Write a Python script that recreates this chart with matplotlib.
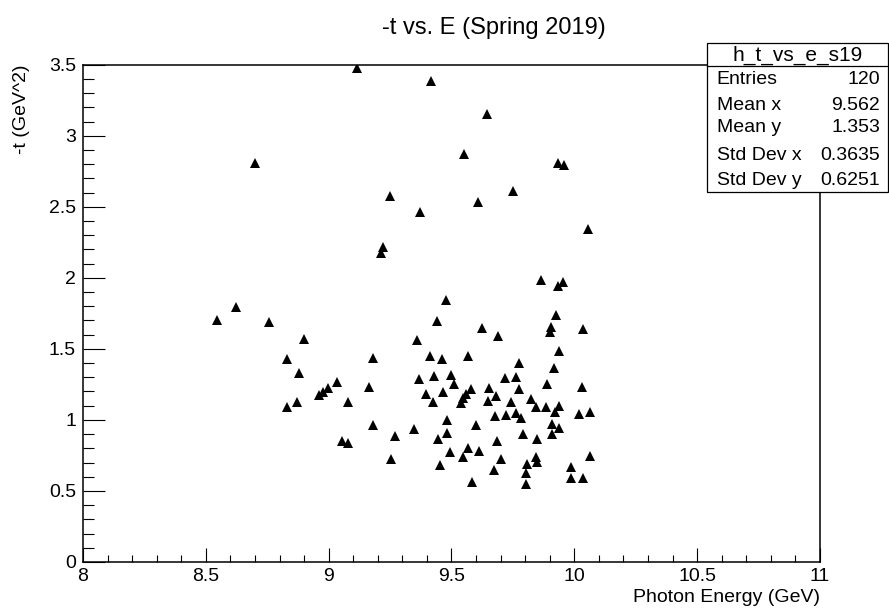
import matplotlib
matplotlib.use("Agg")
import matplotlib.pyplot as plt
from matplotlib.ticker import MultipleLocator
from matplotlib.patches import Rectangle
from matplotlib.lines import Line2D

plt.rcParams['font.family'] = ['Liberation Sans', 'DejaVu Sans']

# photon energy (GeV) and -t (GeV^2)
energy = [9.114, 8.700, 9.418, 9.644, 9.549, 9.934, 9.959, 9.249, 9.751, 9.608,
          9.372, 10.054, 9.222, 9.213, 9.864, 9.952, 9.934, 9.476, 8.622, 8.547,
          8.757, 8.898, 8.831, 9.182, 8.880, 9.034, 8.999, 8.978, 8.962, 9.163,
          9.079, 8.872, 8.829, 9.180, 9.055, 9.079, 9.443, 9.924, 9.907, 9.902,
          9.626, 9.689, 10.036, 9.358, 9.412, 9.460, 9.567, 9.773, 9.937, 9.918,
          9.367, 9.430, 9.498, 9.510, 9.719, 9.761, 9.887, 10.032, 9.396, 9.464,
          9.426, 9.580, 9.561, 9.548, 9.538, 9.651, 9.681, 9.650, 9.776, 9.743,
          9.825, 9.844, 9.883, 9.937, 9.922, 9.676, 9.720, 9.764, 9.782, 10.020,
          10.065, 9.483, 9.598, 9.348, 9.910, 9.936, 9.909, 9.481, 9.445, 9.269,
          9.685, 9.793, 9.849, 9.494, 9.567, 9.612, 9.548, 9.701, 9.842, 9.849,
          9.808, 10.065, 9.254, 9.453, 9.671, 9.986, 9.804, 9.985, 10.036, 9.584,
          9.803]
minus_t = [3.477, 2.808, 3.383, 3.153, 2.873, 2.808, 2.791, 2.573, 2.608, 2.531,
           2.463, 2.347, 2.216, 2.178, 1.986, 1.970, 1.939, 1.845, 1.792, 1.704,
           1.692, 1.568, 1.427, 1.434, 1.333, 1.270, 1.223, 1.199, 1.176, 1.235,
           1.129, 1.125, 1.094, 0.965, 0.852, 0.840, 1.695, 1.735, 1.657, 1.622,
           1.645, 1.592, 1.643, 1.563, 1.451, 1.430, 1.451, 1.399, 1.488, 1.364,
           1.287, 1.310, 1.317, 1.254, 1.298, 1.301, 1.251, 1.235, 1.183, 1.195,
           1.125, 1.216, 1.181, 1.153, 1.118, 1.223, 1.169, 1.136, 1.216, 1.127,
           1.150, 1.089, 1.089, 1.101, 1.054, 1.028, 1.035, 1.051, 1.012, 1.042,
           1.058, 1.000, 0.965, 0.934, 0.970, 0.946, 0.901, 0.911, 0.866, 0.890,
           0.852, 0.899, 0.866, 0.773, 0.805, 0.784, 0.737, 0.725, 0.742, 0.706,
           0.690, 0.749, 0.725, 0.681, 0.648, 0.671, 0.625, 0.589, 0.589, 0.561,
           0.549]

stat_names = ["Entries", "Mean x", "Mean y", "Std Dev x", "Std Dev y"]
stat_values = ["120", "9.562", "1.353", "0.3635", "0.6251"]

W, H = 889, 609
fig = plt.figure(figsize=(W / 100, H / 100), dpi=100)
ax = fig.add_axes([83 / W, 1 - 562 / H, 737 / W, 497.3 / H])

ax.plot(energy, minus_t, linestyle='none', marker='^', markersize=7.5,
        color='black', markeredgewidth=0)

ax.set_xlim(8, 11)
ax.set_ylim(0, 3.5)
ax.xaxis.set_major_locator(MultipleLocator(0.5))
ax.xaxis.set_minor_locator(MultipleLocator(0.1))
ax.yaxis.set_major_locator(MultipleLocator(0.5))
ax.yaxis.set_minor_locator(MultipleLocator(0.1))
ax.xaxis.set_major_formatter(plt.FuncFormatter(lambda v, p: f"{v:g}"))
ax.yaxis.set_major_formatter(plt.FuncFormatter(lambda v, p: f"{v:g}"))

ax.tick_params(axis='both', which='both', direction='in', top=False, right=False,
               width=0.8, labelsize=14, colors='black')
ax.tick_params(axis='x', which='major', length=10.4, pad=4)
ax.tick_params(axis='x', which='minor', length=5.2)
ax.tick_params(axis='y', which='major', length=15.8, pad=5)
ax.tick_params(axis='y', which='minor', length=7.9)
for s in ax.spines.values():
    s.set_linewidth(1.1)

fig.text(494 / W, 1 - 28 / H, "-t vs. E (Spring 2019)", fontsize=17,
         ha='center', va='center')
fig.text(820 / W, 1 - 597 / H, "Photon Energy (GeV)", fontsize=14,
         ha='right', va='center')
fig.text(22 / W, 1 - 65 / H, "-t (GeV^2)", fontsize=14, rotation=90,
         ha='center', va='top')

# stats box
bx0, bx1 = 706.7 / W, 888 / W
by0, by1 = 1 - 191.7 / H, 1 - 42.7 / H
fig.patches.append(Rectangle((bx0, by0), bx1 - bx0, by1 - by0,
                             transform=fig.transFigure, facecolor='white',
                             edgecolor='black', linewidth=0.9, zorder=5))
fig.lines.append(Line2D([bx0, bx1], [1 - 65.7 / H] * 2, transform=fig.transFigure,
                        color='black', linewidth=0.9, zorder=6))
fig.text((bx0 + bx1) / 2, 1 - 55 / H, "h_t_vs_e_s19", fontsize=15,
         ha='center', va='center', zorder=7)
row_y = [80, 105.7, 128, 155, 180]
for name, val, yy in zip(stat_names, stat_values, row_y):
    fig.text(716.7 / W, 1 - yy / H, name, fontsize=14, ha='left', va='center', zorder=7)
    fig.text(880 / W, 1 - yy / H, val, fontsize=14, ha='right', va='center', zorder=7)

fig.savefig("out.png", dpi=100)
